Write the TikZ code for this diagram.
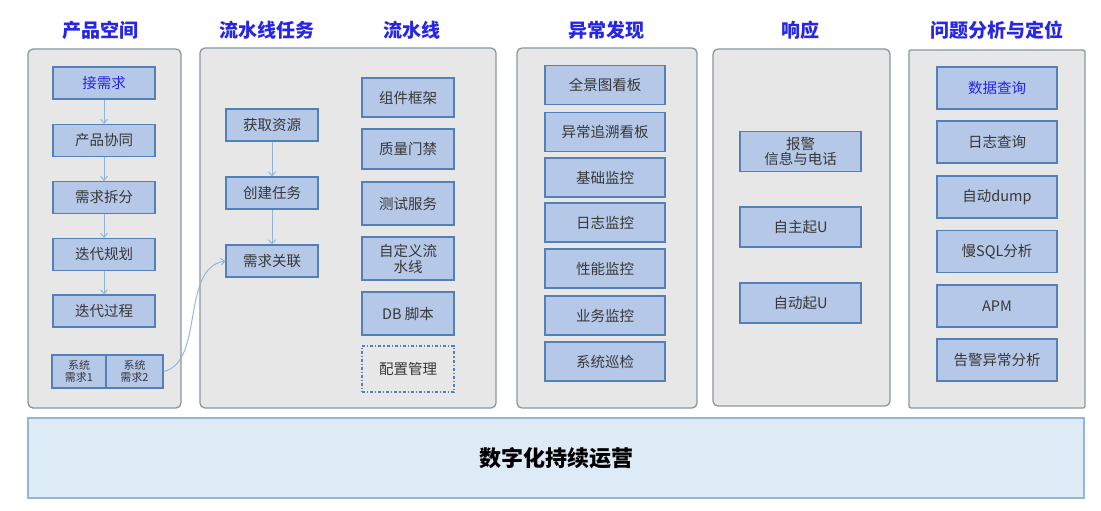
\documentclass[tikz,border=0pt]{standalone}
\usepackage{fontspec}
\setmainfont{Noto Sans CJK SC}
\usetikzlibrary{arrows.meta}
\definecolor{hdr}{RGB}{38,38,228}
\definecolor{panelfill}{RGB}{231,231,231}
\definecolor{paneldraw}{RGB}{138,150,163}
\definecolor{boxfill}{RGB}{182,200,232}
\definecolor{boxdraw}{RGB}{84,128,184}
\definecolor{txt}{RGB}{55,55,55}
\definecolor{arr}{RGB}{140,180,220}
\definecolor{barfill}{RGB}{221,235,247}
\definecolor{bardraw}{RGB}{150,180,212}
\tikzset{
  panel/.style={fill=panelfill,draw=paneldraw,line width=1.3pt,rounded corners=5pt},
  hdrtext/.style={text=hdr,font=\fontsize{19}{21}\selectfont\bfseries},
  box/.style={fill=boxfill,draw=boxdraw,line width=1.2pt,text=txt,font=\fontsize{14.5}{16}\selectfont,align=center,inner sep=0pt},
  dbox/.style={draw=boxdraw,line width=1.1pt,dash dot,text=txt,font=\fontsize{14.5}{16}\selectfont,align=center,inner sep=0pt},
  flow/.style={draw=arr,line width=0.9pt,-{Straight Barb[length=4pt,width=7pt]}}
}
\begin{document}
\begin{tikzpicture}[x=1pt,y=-1pt]
\useasboundingbox (0,0) rectangle (1101,511);
\fill[white] (0,0) rectangle (1101,511);
% panels
\draw[panel] (28,49) rectangle (181,408);
\draw[panel] (200,48) rectangle (496,408);
\draw[panel] (517,48) rectangle (697,408);
\draw[panel] (713,49) rectangle (890,406);
\draw[panel,rounded corners=2pt] (909,50) rectangle (1085,408);
% headers
\node[hdrtext] (h1) at (100,30) {产品空间};
\node[hdrtext] (h2) at (267,30) {流水线任务};
\node[hdrtext] (h3) at (412,30) {流水线};
\node[hdrtext] (h4) at (606,30) {异常发现};
\node[hdrtext] (h5) at (800,30) {响应};
\node[hdrtext] (h6) at (997,30) {问题分析与定位};
% panel 1
\node[box,minimum width=102,minimum height=32,text=hdr] (a1) at (104,83) {接需求};
\node[box,minimum width=102,minimum height=32] (a2) at (104,140.5) {产品协同};
\node[box,minimum width=102,minimum height=32] (a3) at (104,197.5) {需求拆分};
\node[box,minimum width=102,minimum height=32] (a4) at (104,254.5) {迭代规划};
\node[box,minimum width=102,minimum height=32] (a5) at (104,311) {迭代过程};
\node[box,minimum width=54,minimum height=33,font=\fontsize{11}{12}\selectfont] (s1) at (79,371.5) {系统\\需求1};
\node[box,minimum width=57,minimum height=33,font=\fontsize{11}{12}\selectfont] (s2) at (134.5,371.5) {系统\\需求2};
\draw[flow] (a1) -- (a2);
\draw[flow] (a2) -- (a3);
\draw[flow] (a3) -- (a4);
\draw[flow] (a4) -- (a5);
% panel 2
\node[box,minimum width=92,minimum height=32] (b1) at (272,125) {获取资源};
\node[box,minimum width=92,minimum height=32] (b2) at (272,193) {创建任务};
\node[box,minimum width=92,minimum height=32] (b3) at (272,261) {需求关联};
\draw[flow] (b1) -- (b2);
\draw[flow] (b2) -- (b3);
\draw[flow] (s2.east) .. controls (205,362) and (180,268) .. (b3.west);
\node[box,minimum width=92,minimum height=39] (c1) at (408,97.5) {组件框架};
\node[box,minimum width=92,minimum height=40] (c2) at (408,149) {质量门禁};
\node[box,minimum width=92,minimum height=43] (c3) at (408,203.5) {测试服务};
\node[box,minimum width=92,minimum height=43] (c4) at (408,258.5) {自定义流\\水线};
\node[box,minimum width=92,minimum height=43] (c5) at (408,313.5) {DB 脚本};
\node[dbox,minimum width=92,minimum height=46] (c6) at (408,369) {配置管理};
% panel 3
\node[box,minimum width=120,minimum height=39] (d1) at (605,85) {全景图看板};
\node[box,minimum width=120,minimum height=39] (d2) at (605,132) {异常追溯看板};
\node[box,minimum width=120,minimum height=39] (d3) at (605,177.5) {基础监控};
\node[box,minimum width=120,minimum height=39] (d4) at (605,222.5) {日志监控};
\node[box,minimum width=120,minimum height=39] (d5) at (605,268.5) {性能监控};
\node[box,minimum width=120,minimum height=39] (d6) at (605,315.5) {业务监控};
\node[box,minimum width=120,minimum height=39] (d7) at (605,361.5) {系统巡检};
% panel 4
\node[box,minimum width=121,minimum height=40,font=\fontsize{14.5}{15}\selectfont] (e1) at (800.5,151.5) {报警\\信息与电话};
\node[box,minimum width=121,minimum height=40] (e2) at (800.5,227) {自主起U};
\node[box,minimum width=121,minimum height=40] (e3) at (800.5,303) {自动起U};
% panel 5
\node[box,minimum width=120,minimum height=42,text=hdr] (f1) at (997,88) {数据查询};
\node[box,minimum width=120,minimum height=42] (f2) at (997,142) {日志查询};
\node[box,minimum width=120,minimum height=42] (f3) at (997,197) {自动dump};
\node[box,minimum width=120,minimum height=42] (f4) at (997,251.5) {慢SQL分析};
\node[box,minimum width=120,minimum height=42] (f5) at (997,306) {APM};
\node[box,minimum width=120,minimum height=42] (f6) at (997,360) {告警异常分析};
% bottom bar
\node[fill=barfill,draw=bardraw,line width=1.2pt,minimum width=1056,minimum height=80,inner sep=0pt,text=black,font=\fontsize{22}{24}\selectfont\bfseries] (bar) at (556,458) {数字化持续运营};
\end{tikzpicture}
\end{document}
